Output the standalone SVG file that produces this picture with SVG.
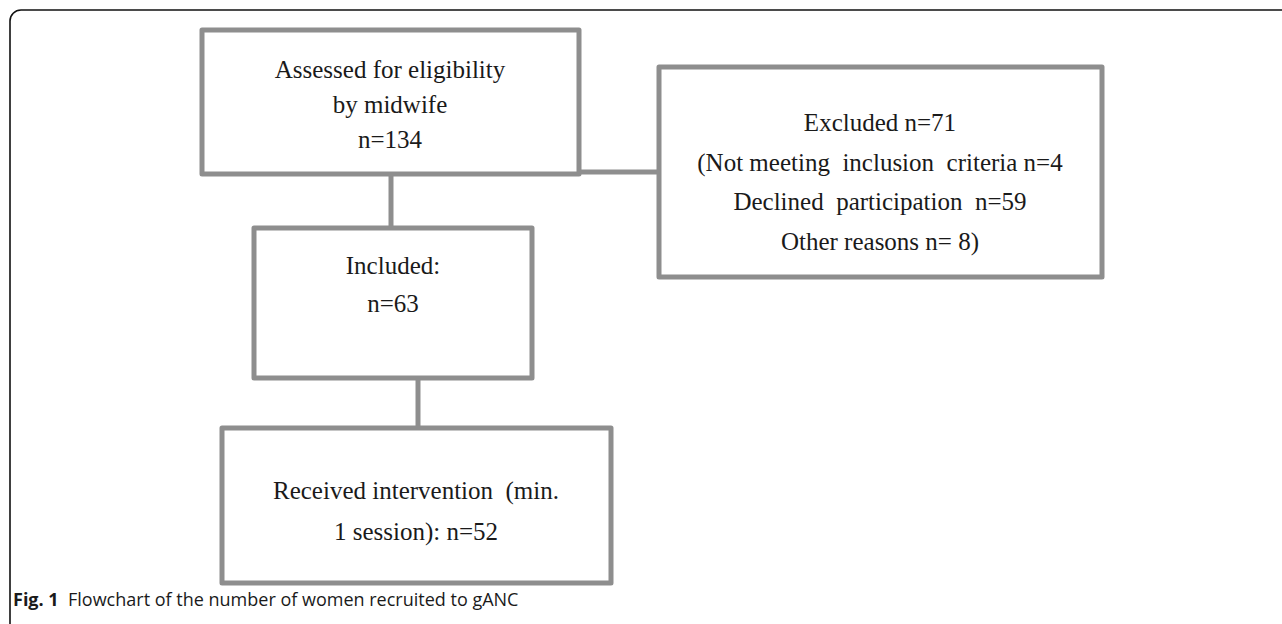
<svg xmlns="http://www.w3.org/2000/svg" width="1282" height="624" viewBox="0 0 1282 624">
<style>
.box{fill:#ffffff;stroke:#8e8e8e;stroke-width:5;stroke-linejoin:round}
.conn{fill:none;stroke:#8e8e8e;stroke-width:5}
.t{font-family:"Liberation Serif","Times New Roman",serif;font-size:25px;fill:#1a1a1a;text-anchor:middle;white-space:pre}
.cap{font-family:"Open Sans","Noto Sans",sans-serif;font-size:18px;fill:#1a1a1a;white-space:pre}
</style>
<rect width="1282" height="624" fill="#ffffff"/>
<path d="M10,624 L10,21 A11,11 0 0 1 21,10 L1282,10" fill="none" stroke="#111111" stroke-width="1.6"/>
<g id="connectors">
<line class="conn" x1="391" y1="174" x2="391" y2="228"/>
<line class="conn" x1="418" y1="378" x2="418" y2="428"/>
<line class="conn" x1="579" y1="172" x2="659" y2="172"/>
</g>
<g id="assessed">
<rect class="box" x="202" y="30" width="377" height="144"/>
<text class="t" x="390" y="78">Assessed for eligibility</text>
<text class="t" x="390" y="113">by midwife</text>
<text class="t" x="390" y="148">n=134</text>
</g>
<g id="excluded">
<rect class="box" x="659" y="67" width="443" height="210"/>
<text class="t" x="880" y="131">Excluded n=71</text>
<text class="t" x="880" y="171">(Not meeting  inclusion  criteria n=4</text>
<text class="t" x="880" y="210">Declined  participation  n=59</text>
<text class="t" x="880" y="250">Other reasons n= 8)</text>
</g>
<g id="included">
<rect class="box" x="254" y="228" width="278" height="150"/>
<text class="t" x="393" y="274">Included:</text>
<text class="t" x="393" y="312">n=63</text>
</g>
<g id="received">
<rect class="box" x="222" y="428" width="389" height="155"/>
<text class="t" x="416" y="499">Received intervention  (min.</text>
<text class="t" x="416" y="540">1 session): n=52</text>
</g>
<text class="cap" x="13" y="606"><tspan font-weight="bold">Fig. 1</tspan>  Flowchart of the number of women recruited to gANC</text>
</svg>
